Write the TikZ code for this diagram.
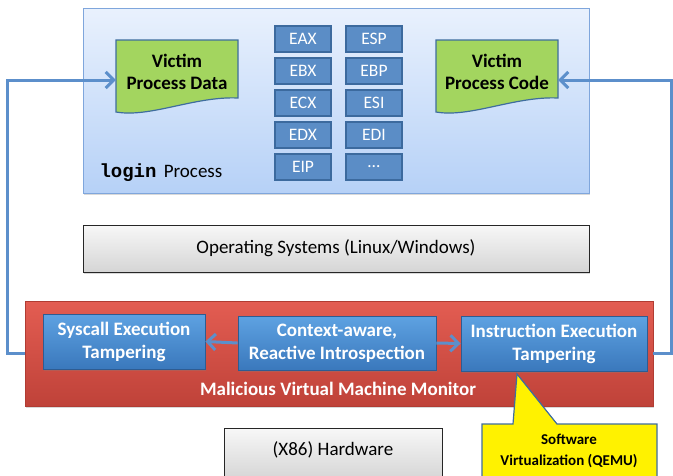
\documentclass[tikz,border=0pt]{standalone}
\usepackage{fontspec}
\setmainfont{Carlito}
\newfontfamily\codefont{Liberation Mono}
\usepackage{xcolor}
\usetikzlibrary{arrows.meta,positioning,shadows}

\definecolor{procTop}{HTML}{E9F1FD}
\definecolor{procBot}{HTML}{B6D1F7}
\definecolor{procEdge}{HTML}{7FA6DC}
\definecolor{docGreen}{HTML}{A3D55F}
\definecolor{docEdge}{HTML}{3F6D9E}
\definecolor{regFill}{HTML}{5B8DC6}
\definecolor{regEdge}{HTML}{3C6A9E}
\definecolor{linkBlue}{HTML}{5C8FCB}
\definecolor{vmmTop}{HTML}{E35D52}
\definecolor{vmmBot}{HTML}{BF4239}
\definecolor{vmmEdge}{HTML}{B03C33}
\definecolor{blueTop}{HTML}{5EA2E2}
\definecolor{blueBot}{HTML}{3A78BC}
\definecolor{blueEdge}{HTML}{2E5C92}

\begin{document}
\begin{tikzpicture}[x=1pt,y=-1pt,
  softshadow/.style={drop shadow={shadow xshift=1.2pt,shadow yshift=-1.8pt,opacity=.3}},
  regbox/.style={draw=regEdge, fill=regFill, text=white, line width=1.2pt,
    minimum width=56, minimum height=26, inner sep=0pt, font=\fontsize{17.5}{20}\selectfont},
  doctext/.style={align=center, font=\bfseries\fontsize{19}{22}\selectfont},
  graybox/.style={draw=black!85, top color=gray!6, bottom color=gray!33, line width=0.9pt,
    softshadow, font=\fontsize{19}{22}\selectfont},
  bluebox/.style={draw=blueEdge, top color=blueTop, bottom color=blueBot, line width=0.9pt,
    text=white, align=center, softshadow, font=\bfseries\fontsize{19}{23}\selectfont},
  link/.style={draw=linkBlue, line width=3pt, -{Straight Barb[length=8pt,width=16pt]}}]

\clip (0,0) rectangle (673,475);

% login process
\node[draw=procEdge, top color=procTop, bottom color=procBot, line width=0.9pt, softshadow,
  minimum width=506, minimum height=185] (login) at (336,100.5) {};
\node[anchor=base west, font=\fontsize{19}{22}\selectfont] (loginlbl) at (96,177)
  {{\codefont\bfseries login}\hspace{3pt} Process};

% victim documents (wavy bottom)
\filldraw[fill=docGreen, draw=docEdge, line width=1.2pt]
  (116,40) -- (238,40) -- (238,98) .. controls (195,96) and (150,118) .. (116,112) -- cycle;
\filldraw[fill=docGreen, draw=docEdge, line width=1.2pt]
  (436,40) -- (558,40) -- (558,98) .. controls (515,96) and (470,118) .. (436,112) -- cycle;
\node[doctext, minimum width=122] (vdata) at (177,72) {Victim\\Process Data};
\node[doctext, minimum width=122] (vcode) at (497,72) {Victim\\Process Code};

% registers
\foreach \reg [count=\i] in {EAX,EBX,ECX,EDX,EIP}
  \node[regbox] (r\i) at (303,{7+32*\i}) {\reg};
\foreach \reg [count=\i] in {ESP,EBP,ESI,EDI,\ldots}
  \node[regbox] (s\i) at (374,{7+32*\i}) {\reg};

% operating system and hardware
\node[graybox, minimum width=506, minimum height=47] (os) at (336,248.5)
  {Operating Systems (Linux/Windows)};
\node[graybox, minimum width=218, minimum height=52, text depth=10pt] (hw) at (333,454)
  {(X86) Hardware};

% malicious VMM
\node[draw=vmmEdge, top color=vmmTop, bottom color=vmmBot, line width=0.9pt, softshadow,
  minimum width=628, minimum height=105] (vmm) at (339,353.5) {};
\node[text=white, font=\bfseries\fontsize{19}{22}\selectfont] (vmmlbl) at (338,389)
  {Malicious Virtual Machine Monitor};
\node[bluebox, minimum width=162, minimum height=55] (sys) at (124,341.5)
  {Syscall Execution\\Tampering};
\node[bluebox, minimum width=198, minimum height=54] (ctx) at (337,343)
  {Context-aware,\\Reactive Introspection};
\node[bluebox, minimum width=186, minimum height=55] (ins) at (554,343.5)
  {Instruction Execution\\Tampering};

\draw[link] (ctx.west) -- (sys.east);
\draw[link] (ctx.east) -- (ins.west);

% feedback into the victim process
\draw[link] (vmm.west) -- ++(-17,0) |- ([yshift=-8pt]vdata.west);
\draw[link] (vmm.east) -- ++(18,0) |- ([yshift=-8pt]vcode.east);

% QEMU callout
\filldraw[fill=yellow, draw=docEdge, line width=1.2pt]
  (482,424) -- (513,424) -- (517,374) -- (557,424) -- (657,424) -- (657,480) -- (482,480) -- cycle;
\node[align=center, font=\bfseries\fontsize{15}{21}\selectfont] (qemu) at (569,451)
  {Software\\Virtualization (QEMU)};

\end{tikzpicture}
\end{document}
